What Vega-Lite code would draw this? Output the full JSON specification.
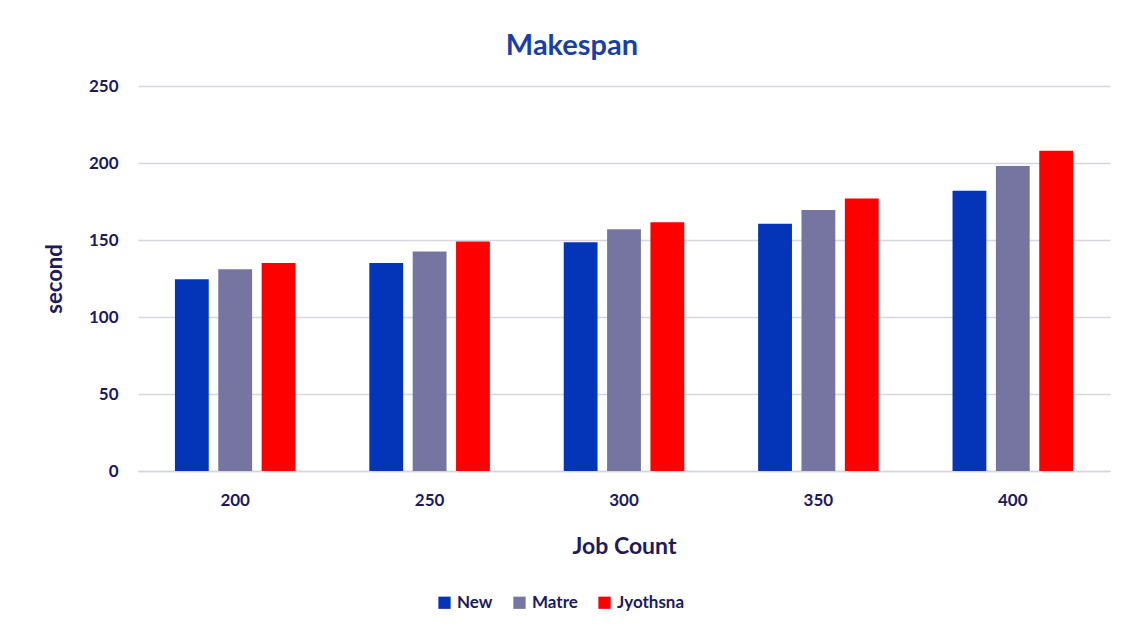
{
  "$schema": "https://vega.github.io/schema/vega-lite/v6.json",
  "width": 972,
  "height": 385,
  "autosize": {"type": "none"},
  "padding": {"left": 138, "top": 86, "right": 14, "bottom": 155},
  "background": "white",
  "title": {
    "text": "Makespan",
    "font": "Lato",
    "fontSize": 29,
    "fontWeight": "bold",
    "color": "#1a3fa6",
    "anchor": "middle",
    "dx": -52,
    "offset": 16
  },
  "data": {
    "values": [
      {"jobs": "200", "method": "New", "value": 124.5},
      {"jobs": "200", "method": "Matre", "value": 131},
      {"jobs": "200", "method": "Jyothsna", "value": 135},
      {"jobs": "250", "method": "New", "value": 135},
      {"jobs": "250", "method": "Matre", "value": 142.5},
      {"jobs": "250", "method": "Jyothsna", "value": 149},
      {"jobs": "300", "method": "New", "value": 148.5},
      {"jobs": "300", "method": "Matre", "value": 157},
      {"jobs": "300", "method": "Jyothsna", "value": 161.5},
      {"jobs": "350", "method": "New", "value": 160.5},
      {"jobs": "350", "method": "Matre", "value": 169.5},
      {"jobs": "350", "method": "Jyothsna", "value": 177},
      {"jobs": "400", "method": "New", "value": 182},
      {"jobs": "400", "method": "Matre", "value": 198},
      {"jobs": "400", "method": "Jyothsna", "value": 208}
    ]
  },
  "mark": {"type": "bar"},
  "encoding": {
    "x": {
      "field": "jobs",
      "type": "nominal",
      "sort": ["200", "250", "300", "350", "400"],
      "scale": {"paddingInner": 0.38, "paddingOuter": 0.19},
      "axis": {
        "title": "Job Count",
        "labelAngle": 0,
        "labelFont": "Lato",
        "labelFontSize": 17,
        "labelFontWeight": "bold",
        "labelColor": "#201a5c",
        "labelPadding": 21,
        "titleFont": "Lato",
        "titleFontSize": 23,
        "titleFontWeight": "bold",
        "titleColor": "#201a5c",
        "titlePadding": 27,
        "ticks": false,
        "domain": true,
        "domainColor": "#d6d6de",
        "domainWidth": 1.5,
        "grid": false
      }
    },
    "xOffset": {
      "field": "method",
      "type": "nominal",
      "sort": ["New", "Matre", "Jyothsna"],
      "scale": {"paddingInner": 0.22}
    },
    "y": {
      "field": "value",
      "type": "quantitative",
      "scale": {"domain": [0, 250]},
      "axis": {
        "title": "second",
        "values": [0, 50, 100, 150, 200, 250],
        "labelFont": "Lato",
        "labelFontSize": 17,
        "labelFontWeight": "bold",
        "labelColor": "#201a5c",
        "labelPadding": 20,
        "titleFont": "Lato",
        "titleFontSize": 22,
        "titleFontWeight": "bold",
        "titleColor": "#201a5c",
        "titlePadding": 22,
        "ticks": false,
        "domain": false,
        "grid": true,
        "gridColor": "#d6d6de",
        "gridWidth": 1.5
      }
    },
    "color": {
      "field": "method",
      "type": "nominal",
      "sort": ["New", "Matre", "Jyothsna"],
      "scale": {
        "domain": ["New", "Matre", "Jyothsna"],
        "range": ["#0434b8", "#7674a0", "#ff0000"]
      },
      "legend": {
        "title": null,
        "orient": "none",
        "direction": "horizontal",
        "legendX": 298,
        "legendY": 508,
        "symbolType": "square",
        "symbolSize": 150,
        "symbolStrokeWidth": 0,
        "labelFont": "Lato",
        "labelFontSize": 17,
        "labelFontWeight": "bold",
        "labelColor": "#201a5c",
        "columnPadding": 18
      }
    }
  },
  "config": {"view": {"stroke": null}}
}
